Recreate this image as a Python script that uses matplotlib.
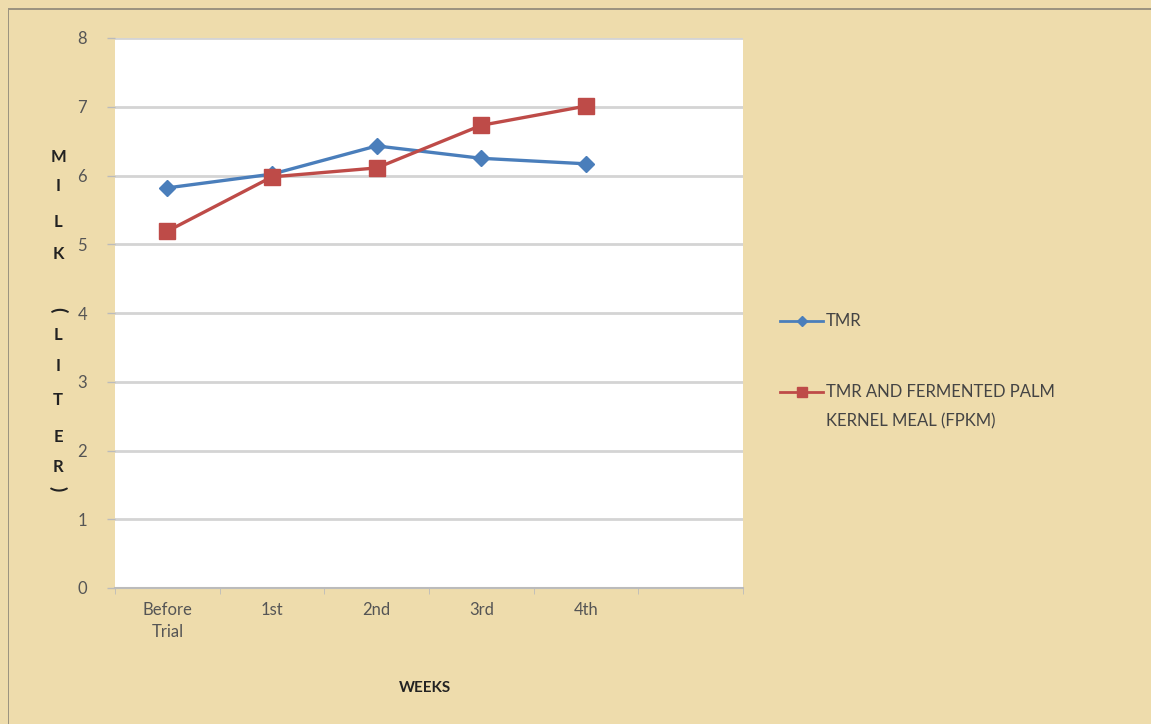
import matplotlib
matplotlib.use("Agg")
import matplotlib.pyplot as plt
from matplotlib.patches import Rectangle
from matplotlib.lines import Line2D

categories = ["Before\nTrial", "1st", "2nd", "3rd", "4th"]
tmr = [5.82, 6.02, 6.43, 6.25, 6.17]
fpkm = [5.19, 5.98, 6.11, 6.73, 7.01]
series_names = ["TMR", "TMR AND FERMENTED PALM\nKERNEL MEAL (FPKM)"]
yticks = [0, 1, 2, 3, 4, 5, 6, 7, 8]

plt.rcParams['font.family'] = ['Lato', 'DejaVu Sans']

W, H = 1151, 724
fig = plt.figure(figsize=(W / 100, H / 100), dpi=100)
fig.patch.set_facecolor("#EEDCAC")

# frame lines (top/left border of the picture)
fig.add_artist(Rectangle((8 / W, 0), 1.2 / W, 1 - 8 / H, transform=fig.transFigure,
                         color="#9C9480", lw=0))
fig.add_artist(Rectangle((8 / W, 1 - 9.5 / H), 1 - 8 / W, 1.5 / H, transform=fig.transFigure,
                         color="#9C9480", lw=0))

ax = fig.add_axes([115 / W, (H - 588) / H, (743 - 115) / W, (588 - 38) / H])
ax.set_facecolor("white")

styles = [dict(color="#4A7EBB", marker="D", ms=8.5),
          dict(color="#BE4B48", marker="s", ms=11)]

x = list(range(len(categories)))
for vals, st in zip([tmr, fpkm], styles):
    ax.plot(x, vals, color=st["color"], lw=2.4, marker=st["marker"], markersize=st["ms"],
            markerfacecolor=st["color"], markeredgecolor=st["color"], zorder=3)

ax.set_xlim(-0.5, 5.5)
ax.set_ylim(0, 8)
ax.set_yticks(yticks)
ax.set_yticklabels([str(v) for v in yticks], fontsize=12, color="#555555")
ax.set_xticks(x)
ax.set_xticklabels(categories, fontsize=12, color="#555555", linespacing=1.5)
ax.tick_params(axis="x", length=0, pad=10)
ax.tick_params(axis="y", length=6, color="#BBBBBB", width=1, pad=14)
ax.set_xticks([i + 0.5 for i in range(-1, 6)], minor=True)
ax.tick_params(axis="x", which="minor", length=4, color="#BBBBBB")

ax.grid(axis="y", color="#D4D4D4", lw=2)
ax.set_axisbelow(True)
for s in ["top", "right", "left"]:
    ax.spines[s].set_visible(False)
ax.spines["bottom"].set_color("#BBBBBB")
ax.spines["bottom"].set_linewidth(1.5)

fig.text(425 / W, 1 - 688 / H, "WEEKS", ha="center", va="center",
         fontsize=11, fontweight="bold", color="#222222")

# stacked y-axis label
letters = [("M", 157, 0, 12), ("I", 186, 0, 12), ("L", 222, 0, 12), ("K", 254, 0, 12),
           ("(", 310, -90, 14), ("L", 335, 0, 12), ("I", 366, 0, 12), ("T", 400, 0, 12),
           ("E", 437, 0, 12), ("R", 467, 0, 12), (")", 489, -90, 14)]
for ch, py, rot, fs in letters:
    fig.text(58 / W, 1 - py / H, ch, ha="center", va="center", rotation=rot,
             fontsize=fs, fontweight="bold", color="#222222")

# legend drawn manually (marker aligned with first text line)
leg_y = [321, 392]
for name, st, py in zip(series_names, styles, leg_y):
    yf = 1 - py / H
    fig.add_artist(Line2D([780 / W, 823 / W], [yf, yf], transform=fig.transFigure,
                          color=st["color"], lw=2))
    fig.add_artist(Line2D([801.5 / W], [yf], transform=fig.transFigure,
                          color=st["color"], marker=st["marker"], ms=st["ms"] * 0.65, lw=0))
    fig.text(826 / W, yf + 8 / H, name, ha="left", va="top", fontsize=12,
             color="#444444", linespacing=2.0)

fig.savefig("out.png", dpi=100, facecolor=fig.get_facecolor())
